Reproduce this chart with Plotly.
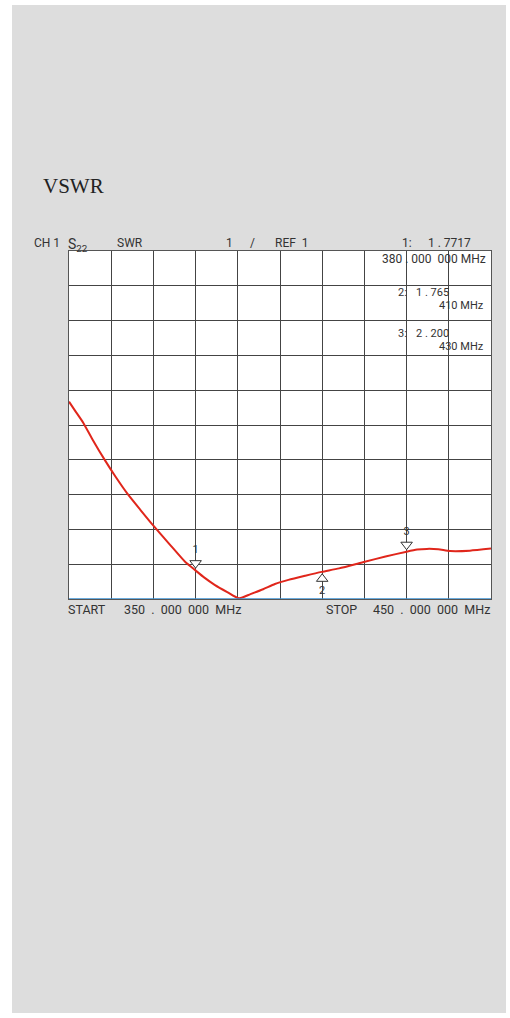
import plotly.graph_objects as go

W, H = 510, 1018

# Data (frequency in MHz, SWR)
freq_mhz = [350.0, 351.5, 353.4, 355.5, 358.5, 361.0, 363.7, 367.0, 370.2, 374.0, 377.5, 379.9,
            382.0, 384.6, 387.5, 390.3, 393.0, 396.0, 398.8, 402.0, 406.0, 409.9, 414.0,
            420.1, 425.0, 430.0, 432.5, 434.8, 437.5, 440.3, 445.0, 450.0]
swr = [6.67, 6.40, 6.06, 5.60, 4.99, 4.52, 4.05, 3.55, 3.08, 2.55, 2.07, 1.83,
       1.62, 1.40, 1.20, 1.02, 1.14, 1.28, 1.43, 1.55, 1.67, 1.78, 1.88,
       2.07, 2.22, 2.36, 2.42, 2.44, 2.43, 2.38, 2.39, 2.45]

marker_freq = [380, 410, 430]
marker_swr = [1.83, 1.78, 2.36]
marker_labels = ["1", "2", "3"]
marker_index = ["1:", "2:", "3:"]
marker_value = ["1 . 7717", "1 . 765", "2 . 200"]
marker_readout_freq = ["380 . 000  000 MHz", "410 MHz", "430 MHz"]

x_start, x_stop = 350, 450
y_ref, y_top = 1, 11

# plot area in pixels
L, R, T, B = 69, 491, 251, 599

fig = go.Figure()

fig.add_trace(go.Scatter(
    x=freq_mhz, y=swr, mode="lines",
    line=dict(color="#e0261b", width=2, shape="spline", smoothing=0.6),
    hoverinfo="skip", showlegend=False,
))

# marker triangles: 1 and 3 above (pointing down), 2 below (pointing up)
fig.add_trace(go.Scatter(
    x=[marker_freq[0], marker_freq[2]], y=[marker_swr[0] + 0.2, marker_swr[2] + 0.2],
    mode="markers+text",
    marker=dict(symbol="triangle-down", size=10, color="white", line=dict(color="#333", width=1)),
    text=[marker_labels[0], marker_labels[2]], textposition="top center",
    textfont=dict(family="Roboto", size=11, color="#333"),
    hoverinfo="skip", showlegend=False, cliponaxis=False,
))
fig.add_trace(go.Scatter(
    x=[marker_freq[1]], y=[marker_swr[1] - 0.2],
    mode="markers+text",
    marker=dict(symbol="triangle-up", size=10, color="white", line=dict(color="#333", width=1)),
    text=[marker_labels[1]], textposition="bottom center",
    textfont=dict(family="Roboto", size=11, color="#333"),
    hoverinfo="skip", showlegend=False, cliponaxis=False,
))
# reference level indicator
fig.add_trace(go.Scatter(
    x=[x_start - 1.5], y=[y_ref], mode="markers",
    marker=dict(symbol="triangle-right", size=5, color="white", line=dict(color="#333", width=1)),
    hoverinfo="skip", showlegend=False, cliponaxis=False,
))

shapes = [
    dict(type="rect", xref="paper", yref="paper", x0=12 / W, x1=506 / W, y0=1 - 1013 / H, y1=1 - 5 / H,
         fillcolor="#dddddd", line=dict(width=0), layer="below"),
    dict(type="rect", xref="x", yref="y", x0=x_start, x1=x_stop, y0=y_ref, y1=y_top,
         fillcolor="white", line=dict(width=0), layer="below"),
    dict(type="line", xref="x", yref="y", x0=x_start, x1=x_stop, y0=y_ref, y1=y_ref,
         line=dict(color="#3a8fd0", width=1.5)),
]

ann = []
def txt(x, y, s, size=12, anchor="left", family="Roboto", color="#333"):
    ann.append(dict(xref="paper", yref="paper", x=x / W, y=1 - y / H, text=s, showarrow=False,
                    xanchor=anchor, yanchor="middle", font=dict(family=family, size=size, color=color)))

txt(41, 186, "VSWR", size=21, family="Liberation Serif", color="#222")
txt(32, 243, "CH 1")
txt(66, 245, "S<sub>22</sub>", size=14)
txt(115, 243, "SWR")
txt(224, 243, "1")
txt(248, 243, "/")
txt(273, 243, "REF  1")
txt(400, 243, marker_index[0])
txt(426, 243, marker_value[0])
txt(488, 259, marker_readout_freq[0], anchor="right")
txt(396, 293, marker_index[1], size=11)
txt(414, 293, marker_value[1], size=11)
txt(486, 305, marker_readout_freq[1], anchor="right", size=11)
txt(396, 333, marker_index[2], size=11)
txt(414, 333, marker_value[2], size=11)
txt(486, 346, marker_readout_freq[2], anchor="right", size=11)
txt(66, 609, "START", size=12.5)
txt(122, 609, f"{x_start}  .  000  000  MHz", size=12.5)
txt(324, 609, "STOP", size=12.5)
txt(492, 609, f"{x_stop}  .  000  000  MHz", size=12.5, anchor="right")

fig.update_layout(
    width=W, height=H, margin=dict(l=0, r=0, t=0, b=0),
    paper_bgcolor="white", plot_bgcolor="white",
    shapes=shapes, annotations=ann,
    xaxis=dict(domain=[L / W, R / W], range=[x_start, x_stop], dtick=10, showgrid=True,
               gridcolor="#444", gridwidth=1, showticklabels=False, zeroline=False,
               showline=True, linecolor="#555", mirror=True, ticks=""),
    yaxis=dict(domain=[1 - B / H, 1 - T / H], range=[y_ref, y_top], dtick=1, showgrid=True,
               gridcolor="#444", gridwidth=1, showticklabels=False, zeroline=False,
               showline=True, linecolor="#555", mirror=True, ticks=""),
)

fig.write_html("out.html", config={"displayModeBar": False},
               post_script="document.body.style.margin='0';document.body.style.overflow='hidden';")
